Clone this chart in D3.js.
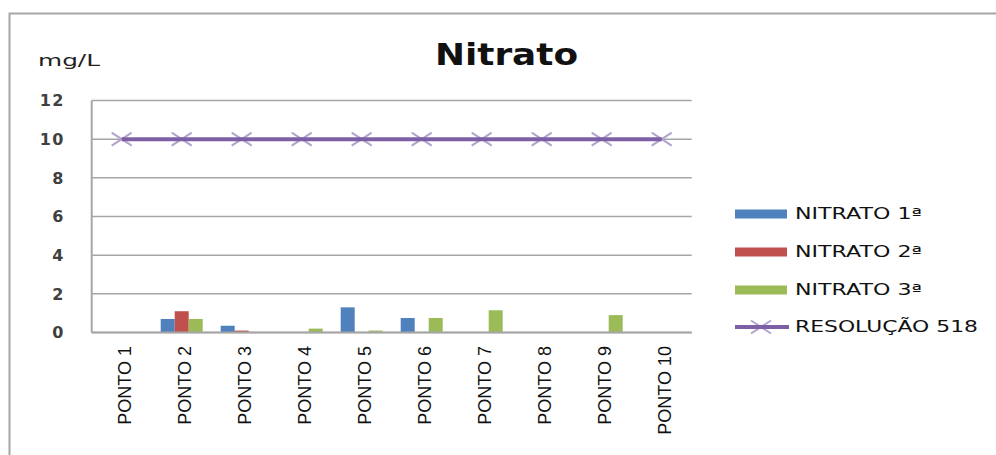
<!DOCTYPE html>
<html>
<head>
<meta charset="utf-8">
<script src="https://cdn.jsdelivr.net/npm/d3@7/dist/d3.min.js"></script>
<style>
  html, body { margin: 0; padding: 0; background: #fff; }
  svg { display: block; }
</style>
</head>
<body>
<svg id="chart" width="996" height="455"></svg>
<script>
// Categories (sampling points)
const categories = ["PONTO 1", "PONTO 2", "PONTO 3", "PONTO 4", "PONTO 5",
                    "PONTO 6", "PONTO 7", "PONTO 8", "PONTO 9", "PONTO 10"];
// Nitrate readings (mg/L) for each sampling campaign
const nitrato1 = [0, 0.7, 0.35, 0, 1.3, 0.75, 0, 0, 0, 0];
const nitrato2 = [0, 1.1, 0.1, 0, 0, 0, 0, 0, 0, 0];
const nitrato3 = [0, 0.7, 0, 0.2, 0.1, 0.75, 1.15, 0, 0.9, 0];
// Legal limit (Resolução 518)
const resolucao518 = [10, 10, 10, 10, 10, 10, 10, 10, 10, 10];
const seriesNames = ["NITRATO 1ª", "NITRATO 2ª", "NITRATO 3ª"];
const limitName = "RESOLUÇÃO 518";
const yTicks = [0, 2, 4, 6, 8, 10, 12];

const barSeries = [
  { name: seriesNames[0], values: nitrato1, color: "#4F81BD" },
  { name: seriesNames[1], values: nitrato2, color: "#C0504D" },
  { name: seriesNames[2], values: nitrato3, color: "#9BBB59" }
];

const svg = d3.select("#chart");

// outer frame (left and top edges)
svg.append("path")
  .attr("d", "M9.5,455 L9.5,13.5 L996,13.5")
  .attr("fill", "none").attr("stroke", "#a6a6a6").attr("stroke-width", 2);

const plot = { left: 91.7, right: 691.7, top: 100.5, bottom: 332.5 };

const y = d3.scaleLinear().domain([0, 12]).range([plot.bottom, plot.top]);
const x0 = d3.scaleBand().domain(categories).range([plot.left, plot.right])
  .paddingInner(0.3).paddingOuter(0.15);
const x1 = d3.scaleBand().domain(seriesNames).range([0, x0.bandwidth()]);
const xc = d3.scalePoint().domain(categories).range([plot.left, plot.right]).padding(0.5);

// gridlines
svg.append("g").selectAll("line").data(yTicks).join("line")
  .attr("x1", plot.left).attr("x2", plot.right)
  .attr("y1", d => y(d)).attr("y2", d => y(d))
  .attr("stroke", "#a6a6a6").attr("stroke-width", 1.5);

// y axis line
svg.append("line")
  .attr("x1", plot.left).attr("x2", plot.left)
  .attr("y1", y(12)).attr("y2", y(0))
  .attr("stroke", "#a6a6a6").attr("stroke-width", 2);

// y tick labels
svg.append("g").selectAll("text").data(yTicks).join("text")
  .attr("x", 65).attr("y", d => y(d))
  .attr("dy", "0.36em")
  .attr("text-anchor", "end")
  .attr("font-family", "DejaVu Sans, Verdana, sans-serif")
  .attr("font-weight", "bold")
  .attr("font-size", 16)
  .attr("letter-spacing", 1.5)
  .attr("fill", "#404040")
  .text(d => d);

// unit label
svg.append("text")
  .attr("x", 38).attr("y", 66)
  .attr("font-family", "DejaVu Sans, Verdana, sans-serif")
  .attr("font-size", 16)
  .attr("textLength", 62).attr("lengthAdjust", "spacingAndGlyphs")
  .attr("fill", "#222")
  .text("mg/L");

// title
svg.append("text")
  .attr("x", 435).attr("y", 65)
  .attr("font-family", "DejaVu Sans, Verdana, sans-serif")
  .attr("font-weight", "bold")
  .attr("font-size", 31)
  .attr("textLength", 143).attr("lengthAdjust", "spacingAndGlyphs")
  .attr("fill", "#111")
  .text("Nitrato");

// bars
const groups = svg.append("g").selectAll("g").data(categories).join("g")
  .attr("transform", d => `translate(${x0(d)},0)`);
groups.selectAll("rect")
  .data((c, i) => barSeries.map(s => ({ name: s.name, value: s.values[i], color: s.color })))
  .join("rect")
  .attr("x", d => x1(d.name))
  .attr("width", x1.bandwidth())
  .attr("y", d => y(d.value))
  .attr("height", d => y(0) - y(d.value))
  .attr("fill", d => d.color);

// x axis baseline redrawn over bars
svg.append("line")
  .attr("x1", plot.left).attr("x2", plot.right)
  .attr("y1", y(0)).attr("y2", y(0))
  .attr("stroke", "#a6a6a6").attr("stroke-width", 2);

// limit line markers
const mk = (cx, cy) => `M${cx - 10},${cy - 6.5}L${cx + 10},${cy + 6.5}M${cx - 10},${cy + 6.5}L${cx + 10},${cy - 6.5}`;
svg.append("g").selectAll("path").data(categories).join("path")
  .attr("d", (c, i) => mk(xc(c), y(resolucao518[i])))
  .attr("fill", "none").attr("stroke", "#b3a2cc").attr("stroke-width", 2);

// limit line
const line = d3.line().x((d, i) => xc(categories[i])).y(d => y(d));
svg.append("path")
  .datum(resolucao518)
  .attr("d", line)
  .attr("fill", "none").attr("stroke", "#7d5fa6").attr("stroke-width", 4);

// x category labels (rotated)
svg.append("g").selectAll("text").data(categories).join("text")
  .attr("transform", d => `translate(${xc(d) + 3},346) rotate(-90)`)
  .attr("dy", "0.35em")
  .attr("text-anchor", "end")
  .attr("font-family", "Liberation Sans, Arial, sans-serif")
  .attr("font-size", 18)
  .attr("fill", "#111")
  .text(d => d);

// legend
const legendRows = [
  { name: seriesNames[0], color: "#4F81BD", type: "bar", y: 214, len: 127 },
  { name: seriesNames[1], color: "#C0504D", type: "bar", y: 252, len: 127 },
  { name: seriesNames[2], color: "#9BBB59", type: "bar", y: 290, len: 127 },
  { name: limitName, color: "#7d5fa6", type: "line", y: 327, len: 183 }
];
const lg = svg.append("g");
legendRows.forEach(r => {
  if (r.type === "bar") {
    lg.append("rect").attr("x", 735).attr("y", r.y - 4.5)
      .attr("width", 52).attr("height", 9).attr("fill", r.color);
  } else {
    lg.append("path").attr("d", mk(761, r.y))
      .attr("fill", "none").attr("stroke", "#b3a2cc").attr("stroke-width", 2);
    lg.append("line").attr("x1", 735).attr("x2", 789)
      .attr("y1", r.y).attr("y2", r.y)
      .attr("stroke", r.color).attr("stroke-width", 4);
  }
  lg.append("text")
    .attr("x", 795).attr("y", r.y).attr("dy", "0.36em")
    .attr("font-family", "DejaVu Sans, Verdana, sans-serif")
    .attr("font-size", 15)
    .attr("textLength", r.len).attr("lengthAdjust", "spacingAndGlyphs")
    .attr("fill", "#111")
    .text(r.name);
});
</script>
</body>
</html>
